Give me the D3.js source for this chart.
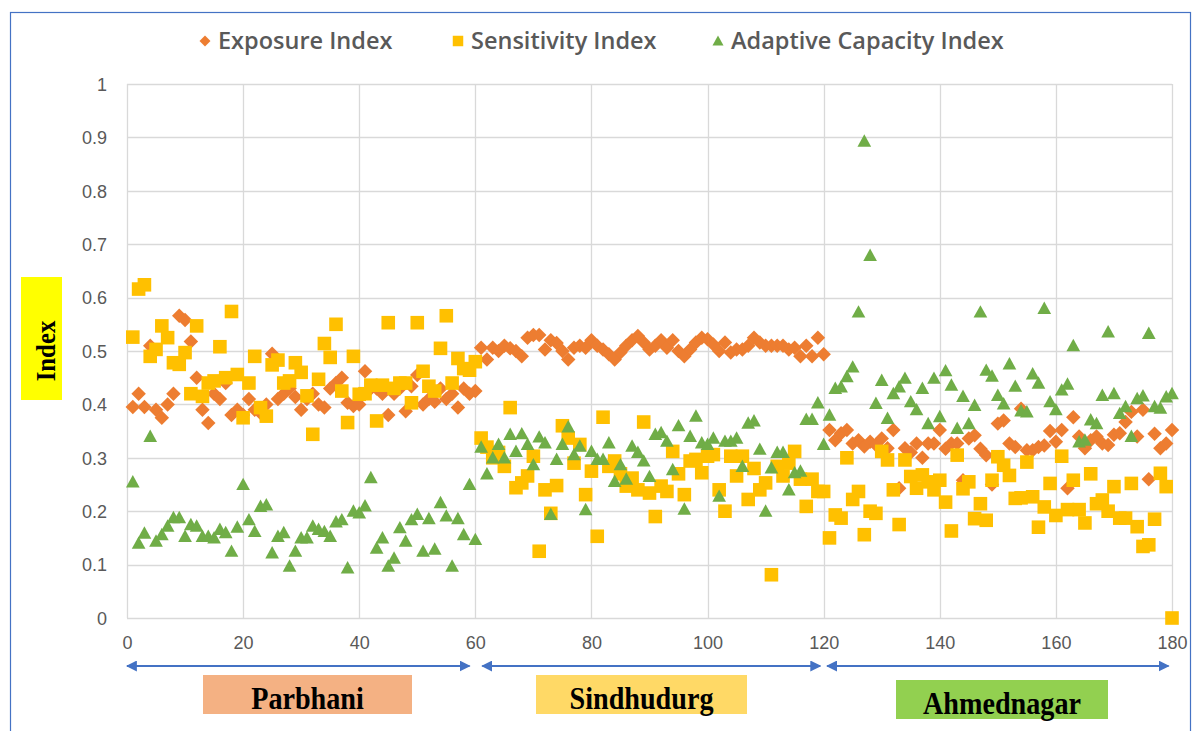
<!DOCTYPE html>
<html lang="en">
<head>
<meta charset="UTF-8">
<title>Exposure, Sensitivity and Adaptive Capacity Index</title>
<script src="https://d3js.org/d3.v7.min.js"></script>
<style>
    body { margin: 0; background: #fff; }
    .tick text { font: 18px "Liberation Sans", sans-serif; fill: #595959; }
    .legend text { font: 600 23.5px "Open Sans", sans-serif; fill: #595959; }
    .region text { font: bold 32px "Liberation Serif", serif; fill: #000; }
</style>
</head>
<body>
<svg width="1195" height="731"></svg>
<script>
    // values, households 1..180
    const exposure = [
        0.395, 0.42, 0.395, 0.51, 0.39, 0.375, 0.40, 0.42, 0.566, 0.558,
        0.518, 0.45, 0.39, 0.365, 0.42, 0.41, 0.44, 0.38, 0.39, 0.38,
        0.41, 0.39, 0.384, 0.40, 0.495, 0.41, 0.42, 0.43, 0.414, 0.39,
        0.41, 0.42, 0.40, 0.394, 0.43, 0.44, 0.45, 0.403, 0.397, 0.40,
        0.462, 0.43, 0.43, 0.42, 0.38, 0.42, 0.43, 0.387, 0.434, 0.455,
        0.40, 0.41, 0.405, 0.43, 0.41, 0.42, 0.394, 0.43, 0.42, 0.425,
        0.506, 0.484, 0.506, 0.50, 0.51, 0.505, 0.50, 0.49, 0.525, 0.53,
        0.53, 0.503, 0.52, 0.515, 0.50, 0.484, 0.506, 0.51, 0.506, 0.52,
        0.51, 0.503, 0.494, 0.484, 0.497, 0.51, 0.52, 0.528, 0.516, 0.503,
        0.51, 0.52, 0.506, 0.52, 0.50, 0.49, 0.503, 0.516, 0.525, 0.522,
        0.512, 0.50, 0.516, 0.497, 0.503, 0.503, 0.51, 0.525, 0.516, 0.51,
        0.51, 0.51, 0.51, 0.503, 0.506, 0.49, 0.51, 0.49, 0.525, 0.494,
        0.352, 0.333, 0.346, 0.352, 0.327, 0.333, 0.321, 0.33, 0.324, 0.336,
        0.318, 0.352, 0.243, 0.318, 0.31, 0.327, 0.30, 0.327, 0.327, 0.352,
        0.317, 0.327, 0.327, 0.258, 0.336, 0.342, 0.317, 0.305, 0.25, 0.364,
        0.37, 0.327, 0.32, 0.392, 0.314, 0.314, 0.32, 0.323, 0.35, 0.33,
        0.352, 0.243, 0.376, 0.34, 0.318, 0.333, 0.34, 0.327, 0.324, 0.343,
        0.346, 0.367, 0.386, 0.34, 0.39, 0.26, 0.345, 0.318, 0.327, 0.352
    ];
    const sensitivity = [
        0.526, 0.616, 0.624, 0.49, 0.503, 0.547, 0.525, 0.478, 0.475, 0.497,
        0.42, 0.547, 0.415, 0.44, 0.444, 0.508, 0.45, 0.574, 0.456, 0.375,
        0.44, 0.49, 0.394, 0.378, 0.474, 0.483, 0.44, 0.444, 0.478, 0.46,
        0.416, 0.344, 0.447, 0.514, 0.488, 0.55, 0.425, 0.366, 0.49, 0.419,
        0.42, 0.436, 0.369, 0.436, 0.553, 0.43, 0.44, 0.44, 0.403, 0.553,
        0.462, 0.434, 0.425, 0.505, 0.566, 0.44, 0.486, 0.467, 0.464, 0.48,
        0.337, 0.32, 0.30, 0.31, 0.284, 0.394, 0.244, 0.253, 0.266, 0.303,
        0.125, 0.24, 0.196, 0.248, 0.36, 0.337, 0.29, 0.325, 0.231, 0.275,
        0.153, 0.376, 0.284, 0.294, 0.27, 0.247, 0.262, 0.24, 0.367, 0.234,
        0.19, 0.247, 0.237, 0.312, 0.27, 0.231, 0.294, 0.297, 0.272, 0.303,
        0.306, 0.24, 0.20, 0.303, 0.266, 0.303, 0.222, 0.28, 0.24, 0.253,
        0.081, 0.284, 0.266, 0.29, 0.312, 0.26, 0.209, 0.26, 0.237, 0.237,
        0.15, 0.193, 0.187, 0.30, 0.222, 0.237, 0.156, 0.20, 0.196, 0.312,
        0.296, 0.24, 0.175, 0.296, 0.265, 0.243, 0.268, 0.255, 0.24, 0.258,
        0.217, 0.163, 0.305, 0.242, 0.255, 0.186, 0.214, 0.183, 0.258, 0.302,
        0.286, 0.267, 0.224, 0.225, 0.292, 0.227, 0.17, 0.208, 0.252, 0.192,
        0.303, 0.203, 0.258, 0.203, 0.178, 0.27, 0.214, 0.221, 0.20, 0.246,
        0.187, 0.187, 0.252, 0.171, 0.134, 0.137, 0.185, 0.271, 0.246, 0.0
    ];
    const adaptive = [
        0.255, 0.14, 0.159, 0.34, 0.144, 0.156, 0.172, 0.188, 0.188, 0.153,
        0.175, 0.172, 0.153, 0.153, 0.15, 0.166, 0.16, 0.125, 0.17, 0.25,
        0.184, 0.162, 0.209, 0.212, 0.122, 0.153, 0.16, 0.097, 0.125, 0.15,
        0.15, 0.172, 0.166, 0.162, 0.153, 0.18, 0.184, 0.094, 0.20, 0.197,
        0.21, 0.263, 0.131, 0.15, 0.097, 0.112, 0.169, 0.144, 0.184, 0.194,
        0.125, 0.186, 0.129, 0.216, 0.191, 0.097, 0.186, 0.156, 0.25, 0.147,
        0.32, 0.27, 0.30, 0.325, 0.30, 0.344, 0.312, 0.345, 0.325, 0.287,
        0.339, 0.328, 0.194, 0.297, 0.325, 0.358, 0.306, 0.322, 0.203, 0.312,
        0.297, 0.297, 0.328, 0.256, 0.287, 0.26, 0.322, 0.31, 0.294, 0.265,
        0.344, 0.347, 0.331, 0.278, 0.36, 0.204, 0.34, 0.378, 0.328, 0.325,
        0.337, 0.228, 0.331, 0.331, 0.337, 0.284, 0.365, 0.369, 0.316, 0.20,
        0.281, 0.31, 0.31, 0.24, 0.272, 0.275, 0.372, 0.372, 0.403, 0.325,
        0.38, 0.43, 0.433, 0.452, 0.47, 0.573, 0.893, 0.679, 0.402, 0.445,
        0.374, 0.42, 0.433, 0.449, 0.405, 0.39, 0.43, 0.364, 0.449, 0.377,
        0.463, 0.436, 0.355, 0.415, 0.364, 0.398, 0.573, 0.464, 0.453, 0.417,
        0.401, 0.476, 0.434, 0.388, 0.386, 0.457, 0.44, 0.58, 0.405, 0.39,
        0.427, 0.438, 0.51, 0.33, 0.333, 0.371, 0.364, 0.417, 0.536, 0.42,
        0.383, 0.396, 0.34, 0.411, 0.416, 0.533, 0.396, 0.393, 0.414, 0.42
    ];
    const xTicks = [0, 20, 40, 60, 80, 100, 120, 140, 160, 180];
    const yTicks = [0, 0.1, 0.2, 0.3, 0.4, 0.5, 0.6, 0.7, 0.8, 0.9, 1];
    const seriesNames = ["Exposure Index", "Sensitivity Index", "Adaptive Capacity Index"];
    const seriesColors = ["#ED7D31", "#FFC000", "#70AD47"];
    const districts = ["Parbhani", "Sindhudurg", "Ahmednagar"];
    const districtRanges = [[0, 60], [60, 120], [120, 180]];
    const districtColors = ["#F4B183", "#FFD966", "#92D050"];

    const svg = d3.select("svg");
    const margin = { left: 127, right: 23, top: 84, bottom: 113 };
    const width = 1195, height = 731;

    const x = d3.scaleLinear().domain([0, 180]).range([margin.left, width - margin.right]);
    const y = d3.scaleLinear().domain([0, 1]).range([height - margin.bottom, margin.top]);

    // outer frame
    svg.append("rect")
        .attr("x", 10.5).attr("y", 12.5)
        .attr("width", 1180).attr("height", 740)
        .attr("fill", "none").attr("stroke", "#4472C4").attr("stroke-width", 1.2);

    // grid
    svg.append("g").selectAll("line.h").data(yTicks).join("line")
        .attr("x1", x(0)).attr("x2", x(180))
        .attr("y1", d => Math.round(y(d)) + 0.5).attr("y2", d => Math.round(y(d)) + 0.5)
        .attr("stroke", "#d9d9d9").attr("stroke-width", 1.3);
    svg.append("g").selectAll("line.v").data(xTicks).join("line")
        .attr("y1", y(0)).attr("y2", y(1))
        .attr("x1", d => Math.round(x(d)) + 0.5).attr("x2", d => Math.round(x(d)) + 0.5)
        .attr("stroke", "#d9d9d9").attr("stroke-width", 1.3);

    // axes (labels only)
    const yAxis = svg.append("g")
        .attr("transform", `translate(${x(0)},0)`)
        .call(d3.axisLeft(y).tickValues(yTicks).tickSize(0).tickPadding(20).tickFormat(d3.format("~g")));
    yAxis.select(".domain").remove();
    yAxis.selectAll("text").attr("dy", "0.35em");

    const xAxis = svg.append("g")
        .attr("transform", `translate(0,${y(0)})`)
        .call(d3.axisBottom(x).tickValues(xTicks).tickSize(0).tickPadding(18));
    xAxis.select(".domain").remove();

    // marker shapes
    const diamond = {
        draw(ctx, size) {
            const r = Math.sqrt(size / 2);
            ctx.moveTo(0, -r); ctx.lineTo(r, 0); ctx.lineTo(0, r); ctx.lineTo(-r, 0); ctx.closePath();
        }
    };
    const square = {
        draw(ctx, size) {
            const h = Math.sqrt(size) / 2;
            ctx.rect(-h, -h, 2 * h, 2 * h);
        }
    };
    const triangle = {
        draw(ctx, size) {
            const s = Math.sqrt(size);
            ctx.moveTo(0, -s * 0.55); ctx.lineTo(s * 0.55, s * 0.45); ctx.lineTo(-s * 0.55, s * 0.45); ctx.closePath();
        }
    };
    const shapes = [diamond, square, triangle];
    const sizes = [105, 185, 155];
    const allSeries = [exposure, sensitivity, adaptive];

    allSeries.forEach((vals, s) => {
        svg.append("g").selectAll("path").data(vals).join("path")
            .attr("d", d3.symbol().type(shapes[s]).size(sizes[s]))
            .attr("transform", (d, i) => `translate(${x(i + 1)},${y(d)})`)
            .attr("fill", seriesColors[s]);
    });

    // legend
    const legendX = [205, 458, 718];
    const legend = svg.append("g").attr("class", "legend");
    seriesNames.forEach((name, s) => {
        legend.append("path")
            .attr("d", d3.symbol().type(shapes[s]).size([60, 110, 100][s]))
            .attr("transform", `translate(${legendX[s]},41)`)
            .attr("fill", seriesColors[s]);
        legend.append("text")
            .attr("x", legendX[s] + 13).attr("y", 49)
            .text(name);
    });

    // y-axis title on a yellow box
    svg.append("rect").attr("x", 21).attr("y", 277).attr("width", 41).attr("height", 123).attr("fill", "#FFFF00");
    svg.append("text")
        .attr("transform", "translate(55,351) rotate(-90) scale(0.92,1)")
        .attr("text-anchor", "middle")
        .style("font", "bold 27px 'Liberation Serif', serif")
        .text("Index");

    // district arrows
    svg.append("defs").append("marker")
        .attr("id", "arrowhead")
        .attr("viewBox", "0 -5 10 10")
        .attr("refX", 9).attr("refY", 0)
        .attr("markerWidth", 5.5).attr("markerHeight", 5.5)
        .attr("orient", "auto-start-reverse")
        .append("path").attr("d", "M0,-5L10,0L0,5Z").attr("fill", "#4472C4");

    const arrowPad = [[0, -1], [1.2, -0.6], [0.6, -0.6]];
    districtRanges.forEach((r, k) => {
        svg.append("line")
            .attr("x1", x(r[0] + arrowPad[k][0])).attr("x2", x(r[1] + arrowPad[k][1]))
            .attr("y1", 666).attr("y2", 666)
            .attr("stroke", "#4472C4").attr("stroke-width", 2)
            .attr("marker-start", "url(#arrowhead)")
            .attr("marker-end", "url(#arrowhead)");
    });

    const boxX = [[203, 412], [536, 747], [896, 1108]];
    const boxY = [675, 675, 680];
    districts.forEach((name, k) => {
        const g = svg.append("g").attr("class", "region");
        const cx = (boxX[k][0] + boxX[k][1]) / 2;
        g.append("rect")
            .attr("x", boxX[k][0]).attr("y", boxY[k])
            .attr("width", boxX[k][1] - boxX[k][0]).attr("height", 39)
            .attr("fill", districtColors[k]);
        g.append("text")
            .attr("transform", `translate(${cx},${boxY[k] + 34}) scale(0.88,1)`)
            .attr("text-anchor", "middle")
            .text(name);
    });
</script>
</body>
</html>
